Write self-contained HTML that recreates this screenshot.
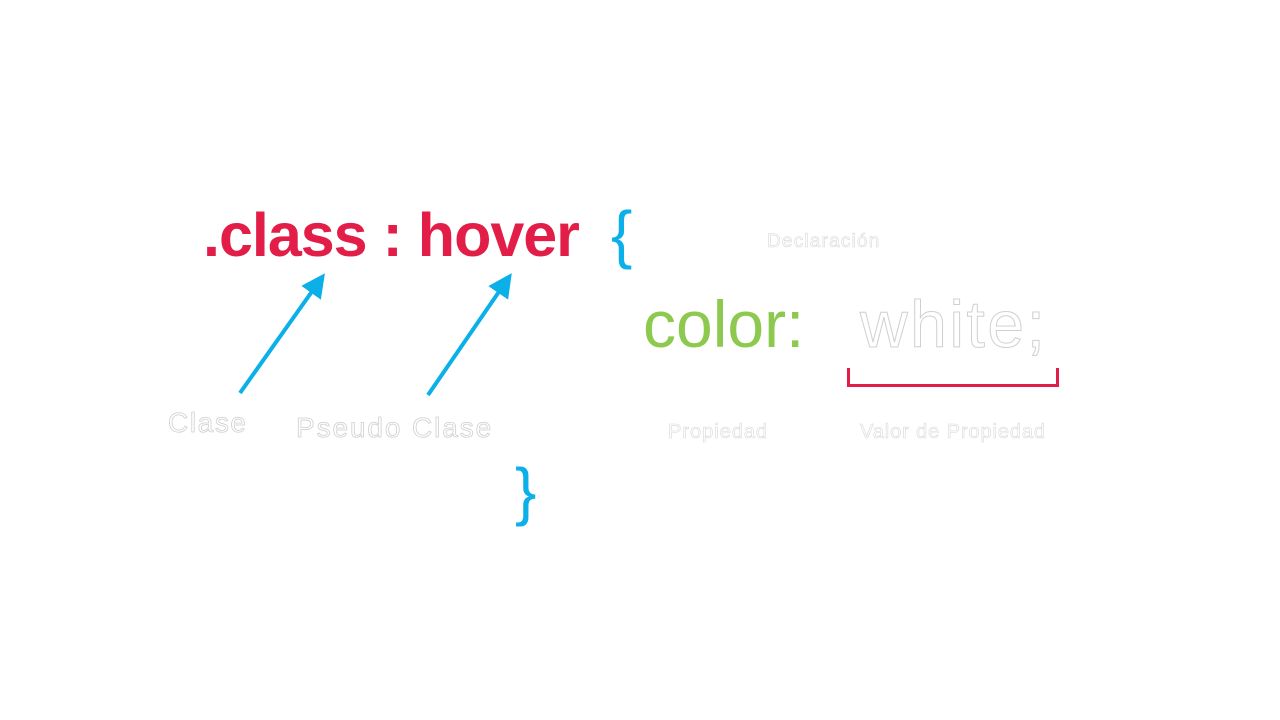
<!DOCTYPE html>
<html><head><meta charset="utf-8"><style>
html,body{margin:0;padding:0;background:#fff;}
#stage{position:relative;width:1280px;height:720px;overflow:hidden;font-family:"Liberation Sans",sans-serif;}
.t{position:absolute;white-space:nowrap;line-height:1;}
.ghost{color:#fff;-webkit-text-stroke:0.6px #d8d8d8;}
</style></head><body>
<div id="stage">
<div class="t" style="left:203px;top:205px;font-size:61px;font-weight:bold;color:#e21d47;letter-spacing:-1px;">.class : hover</div>
<div class="t" style="left:611px;top:202px;font-size:64px;color:#0bb0e8;">{</div>
<div class="t ghost" style="left:767px;top:232px;font-size:19px;letter-spacing:1.2px;">Declaración</div>
<div class="t" style="left:643px;top:291px;font-size:66px;color:#8dc94e;">color:</div>
<div class="t ghost" style="left:860px;top:291px;font-size:66px;letter-spacing:2.5px;-webkit-text-stroke:1px #d0d0d0;">white;</div>
<div style="position:absolute;left:847px;top:368px;width:206px;height:16px;border:3px solid #e21d47;border-top:none;"></div>
<div class="t ghost" style="left:668px;top:422px;font-size:20px;letter-spacing:1px;">Propiedad</div>
<div class="t ghost" style="left:860px;top:422px;font-size:20px;letter-spacing:0.9px;">Valor de Propiedad</div>
<div class="t ghost" style="left:168px;top:409px;font-size:28px;letter-spacing:1.6px;-webkit-text-stroke:0.8px #cfcfcf;">Clase</div>
<div class="t ghost" style="left:296px;top:414px;font-size:28px;letter-spacing:1.9px;-webkit-text-stroke:0.8px #cfcfcf;">Pseudo Clase</div>
<div class="t" style="left:515px;top:459px;font-size:64px;color:#0bb0e8;">}</div>
<svg width="1280" height="720" style="position:absolute;left:0;top:0;">
<defs><marker id="ah" markerWidth="6" markerHeight="6" refX="3" refY="3" orient="auto"><path d="M0,0 L6,3 L0,6 Z" fill="#0bb0e8"/></marker></defs>
<line x1="240" y1="393" x2="318" y2="283" stroke="#0bb0e8" stroke-width="4" marker-end="url(#ah)"/>
<line x1="428" y1="395" x2="505" y2="283" stroke="#0bb0e8" stroke-width="4" marker-end="url(#ah)"/>
</svg>
</div>
</body></html>
